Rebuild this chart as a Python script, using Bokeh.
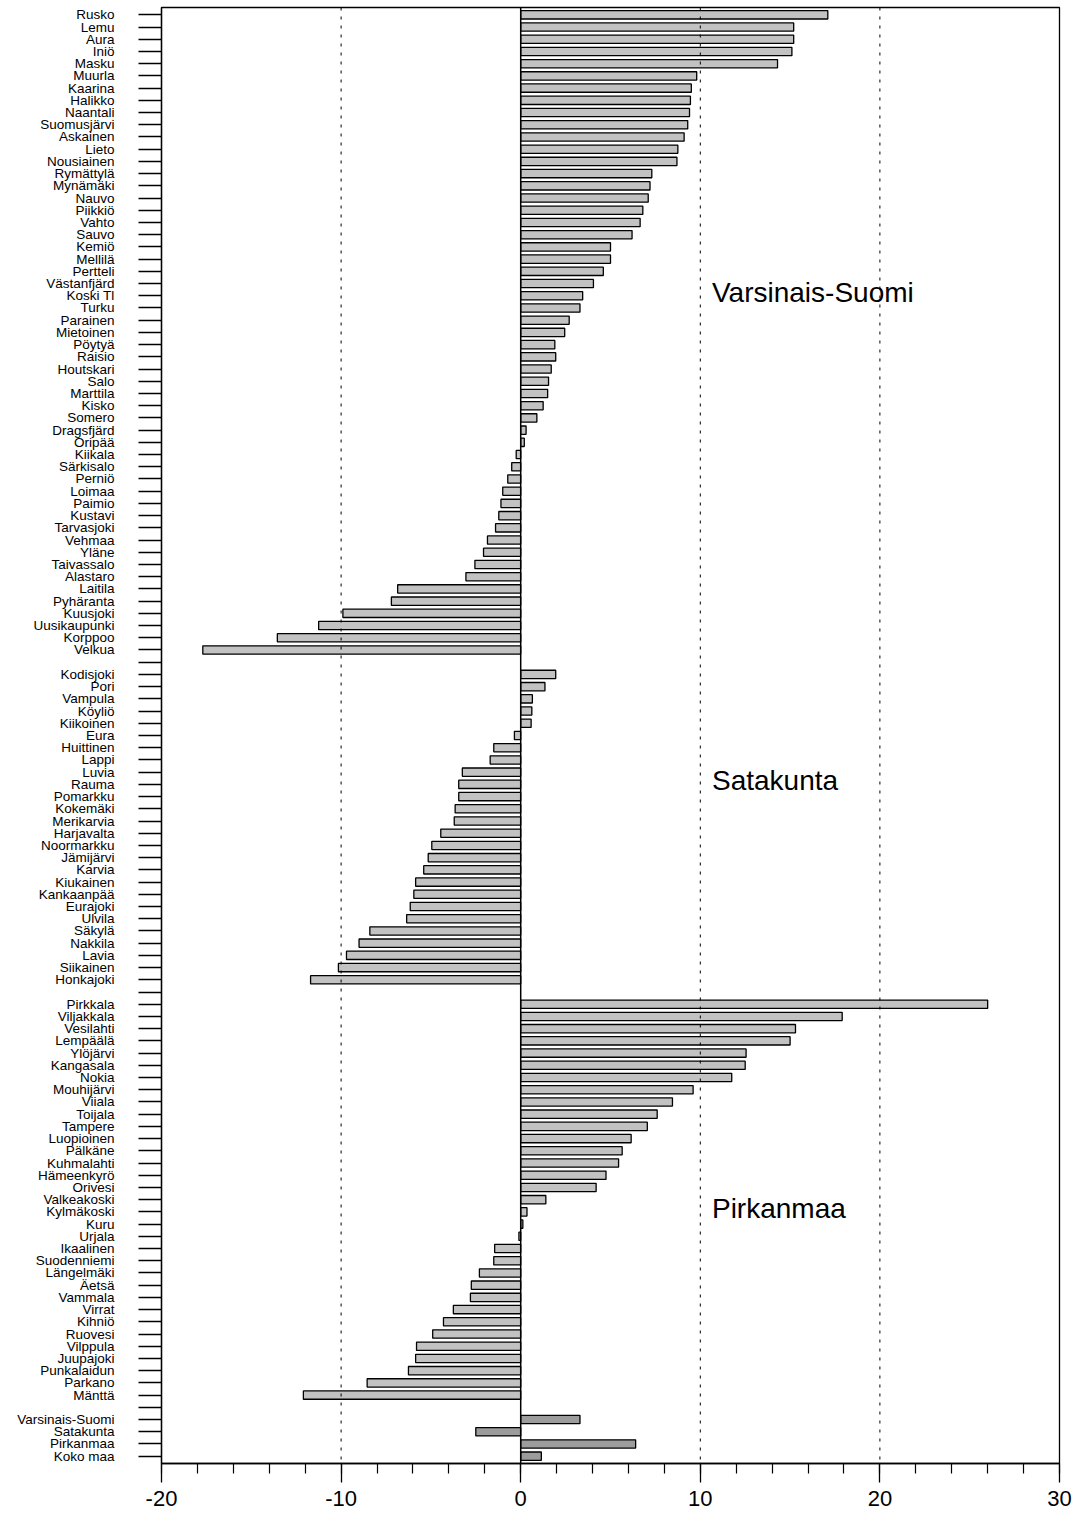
from bokeh.plotting import figure
from bokeh.models import Range1d, FixedTicker, SingleIntervalTicker, Span, Label, ColumnDataSource
from bokeh.embed import file_html
from bokeh.resources import INLINE

# ---------------- data ----------------
vs_names = ["Rusko", "Lemu", "Aura", "Iniö", "Masku", "Muurla", "Kaarina", "Halikko", "Naantali",
            "Suomusjärvi", "Askainen", "Lieto", "Nousiainen", "Rymättylä", "Mynämäki", "Nauvo",
            "Piikkiö", "Vahto", "Sauvo", "Kemiö", "Mellilä", "Pertteli", "Västanfjärd", "Koski Tl",
            "Turku", "Parainen", "Mietoinen", "Pöytyä", "Raisio", "Houtskari", "Salo", "Marttila",
            "Kisko", "Somero", "Dragsfjärd", "Oripää", "Kiikala", "Särkisalo", "Perniö", "Loimaa",
            "Paimio", "Kustavi", "Tarvasjoki", "Vehmaa", "Yläne", "Taivassalo", "Alastaro", "Laitila",
            "Pyhäranta", "Kuusjoki", "Uusikaupunki", "Korppoo", "Velkua"]
vs_values = [17.1, 15.2, 15.2, 15.1, 14.3, 9.8, 9.5, 9.45, 9.4,
             9.3, 9.1, 8.75, 8.7, 7.3, 7.2, 7.1,
             6.8, 6.65, 6.2, 5.0, 5.0, 4.6, 4.05, 3.45,
             3.3, 2.7, 2.45, 1.9, 1.95, 1.7, 1.55, 1.5,
             1.25, 0.9, 0.3, 0.2, -0.25, -0.5, -0.72, -1.0,
             -1.1, -1.22, -1.4, -1.85, -2.07, -2.55, -3.05, -6.85,
             -7.2, -9.9, -11.25, -13.55, -17.7]

sk_names = ["Kodisjoki", "Pori", "Vampula", "Köyliö", "Kiikoinen", "Eura", "Huittinen", "Lappi",
            "Luvia", "Rauma", "Pomarkku", "Kokemäki", "Merikarvia", "Harjavalta", "Noormarkku",
            "Jämijärvi", "Karvia", "Kiukainen", "Kankaanpää", "Eurajoki", "Ulvila", "Säkylä",
            "Nakkila", "Lavia", "Siikainen", "Honkajoki"]
sk_values = [1.95, 1.35, 0.65, 0.62, 0.58, -0.35, -1.5, -1.7,
             -3.25, -3.45, -3.45, -3.65, -3.7, -4.45, -4.95,
             -5.15, -5.4, -5.85, -5.95, -6.15, -6.35, -8.4,
             -9.0, -9.7, -10.15, -11.7]

pm_names = ["Pirkkala", "Viljakkala", "Vesilahti", "Lempäälä", "Ylöjärvi", "Kangasala", "Nokia",
            "Mouhijärvi", "Viiala", "Toijala", "Tampere", "Luopioinen", "Pälkäne", "Kuhmalahti",
            "Hämeenkyrö", "Orivesi", "Valkeakoski", "Kylmäkoski", "Kuru", "Urjala", "Ikaalinen",
            "Suodenniemi", "Längelmäki", "Äetsä", "Vammala", "Virrat", "Kihniö", "Ruovesi",
            "Vilppula", "Juupajoki", "Punkalaidun", "Parkano", "Mänttä"]
pm_values = [26.0, 17.9, 15.3, 15.0, 12.55, 12.5, 11.75,
             9.6, 8.45, 7.6, 7.05, 6.15, 5.65, 5.45,
             4.75, 4.2, 1.4, 0.35, 0.12, -0.1, -1.45,
             -1.5, -2.3, -2.75, -2.8, -3.75, -4.3, -4.9,
             -5.8, -5.85, -6.25, -8.55, -12.1]

sum_names = ["Varsinais-Suomi", "Satakunta", "Pirkanmaa", "Koko maa"]
sum_values = [3.3, -2.5, 6.4, 1.15]

x_ticks_major = [-20, -10, 0, 10, 20, 30]
dashed_lines = [-10, 10, 20]

# ---------------- layout of slots (groups separated by one empty slot) ----------------
groups = [(vs_names, vs_values, False), (sk_names, sk_values, False),
          (pm_names, pm_values, False), (sum_names, sum_values, True)]
slot_labels = []
bar_y, bar_v, bar_fill = [], [], []
for gi, (names, vals, is_sum) in enumerate(groups):
    if gi > 0:
        slot_labels.append("")
    for n, v in zip(names, vals):
        bar_y.append(len(slot_labels))
        bar_v.append(v)
        bar_fill.append("#9c9c9c" if is_sum else "#c2c2c2")
        slot_labels.append(n)
n_slots = len(slot_labels)
slot_of = {n: i for i, n in enumerate(slot_labels) if n}

FONT = "Liberation Sans"

p = figure(width=1072, height=1518, output_backend="svg", toolbar_location=None,
           x_range=Range1d(-20, 30), y_range=Range1d(n_slots - 0.4, -0.6),
           min_border_left=161, min_border_right=13, min_border_top=7, min_border_bottom=55,
           background_fill_color="white", border_fill_color="white")
p.xgrid.visible = False
p.ygrid.visible = False
p.outline_line_color = "black"
p.outline_line_width = 1.3

src = ColumnDataSource(dict(y=bar_y, right=bar_v, left=[0] * len(bar_v), fill=bar_fill))
p.hbar(y="y", left="left", right="right", height=0.68, source=src,
       fill_color="fill", line_color="black", line_width=1.3)

for v in dashed_lines:
    p.add_layout(Span(location=v, dimension="height", line_color="black",
                      line_width=1, line_dash="3 6"))
p.add_layout(Span(location=0, dimension="height", line_color="black", line_width=1.5))

# y axis
ya = p.yaxis[0]
ya.ticker = FixedTicker(ticks=list(range(n_slots)))
ya.major_label_overrides = {i: lab for i, lab in enumerate(slot_labels)}
ya.major_tick_out = 23
ya.major_tick_in = 0
ya.minor_tick_out = 0
ya.major_label_standoff = 24
ya.major_label_text_font = FONT
ya.major_label_text_font_size = "13.5px"
ya.major_label_text_color = "black"
ya.axis_line_color = "black"
ya.axis_line_width = 1.3
ya.major_tick_line_width = 1.3

# x axis
xa = p.xaxis[0]
xa.ticker = SingleIntervalTicker(interval=10, num_minor_ticks=5)
xa.major_label_overrides = {t: str(t) for t in x_ticks_major}
xa.major_tick_out = 19
xa.major_tick_in = 0
xa.minor_tick_out = 10
xa.minor_tick_in = 0
xa.major_label_standoff = 8
xa.major_label_text_font = FONT
xa.major_label_text_font_size = "22px"
xa.major_label_text_color = "black"
xa.axis_line_color = "black"
xa.axis_line_width = 1.3
xa.major_tick_line_width = 1.3
xa.minor_tick_line_width = 1.2

# group annotations
for text, anchor in [("Varsinais-Suomi", "Koski Tl"), ("Satakunta", "Rauma"), ("Pirkanmaa", "Kylmäkoski")]:
    p.add_layout(Label(x=10.65, y=slot_of[anchor] - 0.3, text=text, text_font=FONT,
                       text_font_size="28px", text_baseline="middle", text_align="left",
                       text_color="black"))

open("out.html", "w").write(file_html(p, INLINE))
